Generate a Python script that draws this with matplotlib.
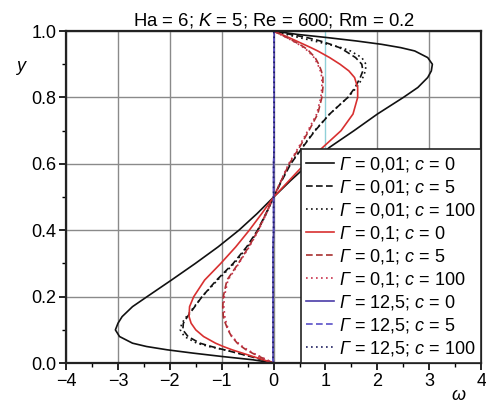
import matplotlib
matplotlib.use("Agg")
import matplotlib.pyplot as plt
from matplotlib.ticker import MultipleLocator, FormatStrFormatter

plt.rcParams['font.family'] = ['Liberation Sans', 'DejaVu Sans']
# math parts are only the italic symbols (Γ, c, K), so make both math fonts italic
plt.rcParams['mathtext.fontset'] = 'custom'
plt.rcParams['mathtext.rm'] = 'Liberation Sans:italic'
plt.rcParams['mathtext.it'] = 'Liberation Sans:italic'

# y positions across the channel
y = [0, 0.01, 0.02, 0.03, 0.04, 0.05, 0.06, 0.08, 0.10, 0.12, 0.14, 0.17, 0.20, 0.25,
     0.30, 0.35, 0.40, 0.45, 0.50, 0.55, 0.60, 0.65, 0.70, 0.75, 0.80, 0.83, 0.86,
     0.88, 0.90, 0.92, 0.94, 0.95, 0.96, 0.97, 0.98, 0.99, 1.00]

# omega profiles
w_001_c0 = [0, -0.4, -1.0, -1.55, -2.05, -2.45, -2.72, -2.97, -3.05, -3.0, -2.92, -2.72, -2.44, -1.97,
            -1.51, -1.07, -0.67, -0.32, 0, 0.33, 0.68, 1.08, 1.55, 2.0, 2.5, 2.78, 2.97,
            3.04, 3.06, 2.97, 2.72, 2.45, 2.08, 1.6, 1.05, 0.45, 0]
w_001_c5 = [0, -0.22, -0.45, -0.7, -0.95, -1.2, -1.42, -1.65, -1.75, -1.74, -1.66, -1.52, -1.38, -1.1,
            -0.78, -0.52, -0.31, -0.15, 0, 0.16, 0.33, 0.56, 0.8, 1.08, 1.43, 1.57, 1.67,
            1.72, 1.7, 1.58, 1.38, 1.27, 1.1, 0.9, 0.65, 0.32, 0]
w_001_c100 = [0, -0.2, -0.42, -0.68, -0.95, -1.25, -1.48, -1.72, -1.8, -1.77, -1.68, -1.53, -1.38, -1.08,
              -0.76, -0.5, -0.3, -0.14, 0, 0.15, 0.32, 0.55, 0.79, 1.08, 1.43, 1.6, 1.72,
              1.77, 1.78, 1.7, 1.48, 1.3, 1.05, 0.78, 0.5, 0.24, 0]
w_01_c0 = [0, -0.2, -0.4, -0.6, -0.8, -0.97, -1.12, -1.35, -1.5, -1.59, -1.63, -1.62, -1.54, -1.33,
           -1.02, -0.73, -0.47, -0.23, 0, 0.3, 0.6, 0.95, 1.3, 1.53, 1.62, 1.62, 1.56,
           1.45, 1.28, 1.08, 0.85, 0.72, 0.58, 0.44, 0.3, 0.15, 0]
w_01_c5 = [0, -0.14, -0.28, -0.41, -0.53, -0.62, -0.7, -0.81, -0.88, -0.93, -0.97, -0.98, -0.97, -0.9,
           -0.68, -0.48, -0.3, -0.15, 0, 0.15, 0.3, 0.5, 0.68, 0.85, 0.93, 0.95, 0.95,
           0.92, 0.87, 0.8, 0.68, 0.6, 0.5, 0.38, 0.26, 0.13, 0]
w_01_c100 = [0, -0.13, -0.26, -0.39, -0.5, -0.6, -0.68, -0.8, -0.87, -0.91, -0.94, -0.96, -0.95, -0.88,
             -0.67, -0.47, -0.29, -0.14, 0, 0.14, 0.29, 0.48, 0.66, 0.83, 0.91, 0.93, 0.93,
             0.9, 0.85, 0.78, 0.66, 0.58, 0.48, 0.37, 0.25, 0.12, 0]
w_125_c0 = [0, -0.01, -0.01, -0.01, -0.01, -0.01, -0.01, -0.01, -0.01, -0.01, -0.01, -0.01, -0.01, -0.01,
            -0.01, -0.01, 0, 0, 0, 0, 0, 0.01, 0.01, 0.01, 0.01, 0.01, 0.01,
            0.01, 0.01, 0.01, 0.01, 0.01, 0.01, 0.01, 0.01, 0.01, 0]
w_125_c5 = w_125_c0
w_125_c100 = w_125_c0

labels = ['$Γ$ = 0,01; $c$ = 0', '$Γ$ = 0,01; $c$ = 5', '$Γ$ = 0,01; $c$ = 100',
          '$Γ$ = 0,1; $c$ = 0', '$Γ$ = 0,1; $c$ = 5', '$Γ$ = 0,1; $c$ = 100',
          '$Γ$ = 12,5; $c$ = 0', '$Γ$ = 12,5; $c$ = 5', '$Γ$ = 12,5; $c$ = 100']

fig = plt.figure(figsize=(4.86, 4.03), dpi=100)
ax = fig.add_axes([0.136, 0.099, 0.854, 0.824])

series = [w_001_c0, w_001_c5, w_001_c100, w_01_c0, w_01_c5, w_01_c100,
          w_125_c0, w_125_c5, w_125_c100]
colors = ['#111111', '#111111', '#111111', '#d83030', '#a83030', '#c8304a',
          '#4a3ca8', '#5a50c8', '#202060']
styles = ['-', (0, (4, 2)), (0, (1, 2)), '-', (0, (4, 2)), (0, (1, 2)),
          '-', (0, (4, 2)), (0, (1, 2))]

for w, c, ls, lab in zip(series, colors, styles, labels):
    ax.plot(w, y, color=c, ls=ls, lw=1.2, label=lab)

ax.set_xlim(-4, 4)
ax.set_ylim(0, 1)
ax.xaxis.set_major_locator(MultipleLocator(1))
ax.xaxis.set_minor_locator(MultipleLocator(0.5))
ax.yaxis.set_major_locator(MultipleLocator(0.2))
ax.yaxis.set_minor_locator(MultipleLocator(0.1))
ax.yaxis.set_major_formatter(FormatStrFormatter('%.1f'))
ax.tick_params(which='major', direction='out', length=5, width=1.2, labelsize=13, pad=2)
ax.tick_params(which='minor', direction='out', length=3, width=1.0)
ax.grid(True, which='major', color='#8a8a8a', lw=1.0)
for gl, v in zip(ax.get_xgridlines(), ax.get_xticks()):
    if abs(v - 1) < 1e-6:
        gl.set_color('#8fd0d8')
for sp in ax.spines.values():
    sp.set_linewidth(1.6)
    sp.set_color('#222222')

ax.set_title('Ha = 6; $K$ = 5; Re = 600; Rm = 0.2', fontsize=13.3, pad=4)
ax.text(-0.11, 0.88, 'y', transform=ax.transAxes, fontsize=13, style='italic', ha='center')
ax.text(0.945, -0.11, 'ω', transform=ax.transAxes, fontsize=13, style='italic', ha='center')

leg = ax.legend(loc='lower right', bbox_to_anchor=(1, 0), borderaxespad=0, fontsize=13,
                fancybox=False, framealpha=1, edgecolor='#222222', handlelength=1.5,
                handletextpad=0.3, labelspacing=0.22, borderpad=0.3)
leg.get_frame().set_linewidth(1.2)

fig.savefig('out.png', dpi=100)
